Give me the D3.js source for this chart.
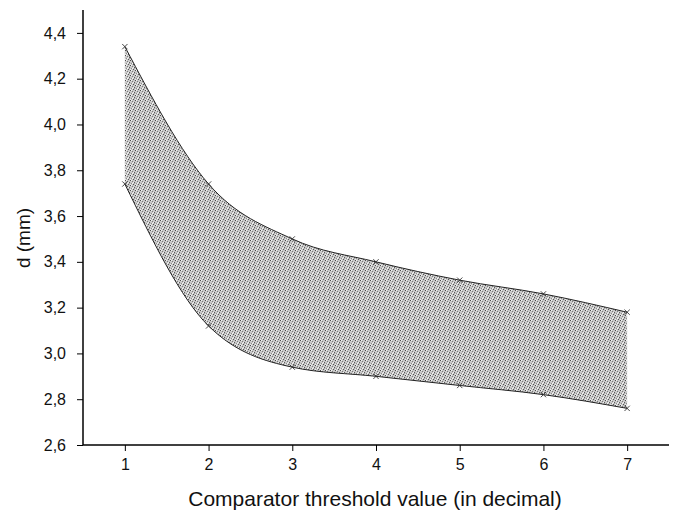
<!DOCTYPE html>
<html>
<head>
<meta charset="utf-8">
<script src="https://cdn.jsdelivr.net/npm/d3@7"></script>
<style>
  html, body { margin: 0; padding: 0; background: #fff; }
  svg { display: block; }
  text { font-family: "Liberation Sans", Arial, sans-serif; fill: #111; }
</style>
</head>
<body>
<svg id="chart" width="676" height="516"></svg>
<script>
// ---- data ----
const xValues = [1, 2, 3, 4, 5, 6, 7];
const upperValues = [4.34, 3.74, 3.50, 3.40, 3.32, 3.26, 3.18];
const lowerValues = [3.74, 3.12, 2.94, 2.90, 2.86, 2.82, 2.76];
const xTicks = [1, 2, 3, 4, 5, 6, 7];
const yTicks = [2.6, 2.8, 3.0, 3.2, 3.4, 3.6, 3.8, 4.0, 4.2, 4.4];
const xLabel = "Comparator threshold value (in decimal)";
const yLabel = "d (mm)";

const svg = d3.select("#chart");
const x = d3.scaleLinear().domain([0.5, 7.5]).range([83, 669]);
const y = d3.scaleLinear().domain([2.6, 4.5]).range([445, 10]);

const rows = xValues.map((v, i) => ({ x: v, hi: upperValues[i], lo: lowerValues[i] }));

// stipple-like pattern
const defs = svg.append("defs");
const pat = defs.append("pattern").attr("id", "stip")
  .attr("width", 5).attr("height", 5).attr("patternUnits", "userSpaceOnUse");
pat.append("rect").attr("width", 5).attr("height", 5).attr("fill", "#c8c8c8");
[[0,0,"#4a4a4a"],[2,1,"#7a7a7a"],[4,2,"#5a5a5a"],[1,3,"#8a8a8a"],[3,4,"#565656"],
 [1,0,"#f4f4f4"],[3,2,"#efefef"],[0,4,"#eaeaea"],[4,3,"#a6a6a6"],[2,3,"#f7f7f7"]]
  .forEach(([px, py, c]) => pat.append("rect").attr("x", px).attr("y", py).attr("width", 1).attr("height", 1).attr("fill", c));

const curve = d3.curveMonotoneX;
const area = d3.area().x(d => x(d.x)).y0(d => y(d.lo)).y1(d => y(d.hi)).curve(curve);
svg.append("path").datum(rows).attr("d", area).attr("fill", "url(#stip)");

const lineHi = d3.line().x(d => x(d.x)).y(d => y(d.hi)).curve(curve);
const lineLo = d3.line().x(d => x(d.x)).y(d => y(d.lo)).curve(curve);
svg.append("path").datum(rows).attr("d", lineHi).attr("fill", "none").attr("stroke", "#222").attr("stroke-width", 1);
svg.append("path").datum(rows).attr("d", lineLo).attr("fill", "none").attr("stroke", "#222").attr("stroke-width", 1);

// markers
const pts = rows.flatMap(d => [{ x: d.x, v: d.hi }, { x: d.x, v: d.lo }]);
svg.append("g").selectAll("path").data(pts).join("path")
  .attr("d", d3.symbol(d3.symbolX, 20)())
  .attr("transform", d => `translate(${x(d.x)},${y(d.v)})`)
  .attr("stroke", "#333").attr("stroke-width", 0.9).attr("fill", "none");

// axes
const fmt = d => d3.format(".1f")(d).replace(".", ",");
const xAxis = svg.append("g").attr("transform", "translate(0,445)");
xAxis.call(d3.axisBottom(x).tickValues(d3.range(0.5, 7.51, 0.5)).tickSize(3).tickFormat(""))
  .call(g => g.select(".domain").remove());
xAxis.call(d3.axisBottom(x).tickValues(xTicks).tickSize(6).tickFormat(d3.format("d")).tickPadding(8))
  .call(g => g.select(".domain").remove());
xAxis.append("line").attr("x1", 83).attr("x2", 669).attr("stroke", "#000").attr("stroke-width", 1.5);
xAxis.selectAll("text").attr("font-size", 16).attr("font-family", "Liberation Sans, Arial, sans-serif").attr("fill", "#111");

const yAxis = svg.append("g").attr("transform", "translate(83,0)");
yAxis.call(d3.axisLeft(y).tickValues(d3.range(2.6, 4.51, 0.1)).tickSize(3).tickFormat(""))
  .call(g => g.select(".domain").remove());
yAxis.call(d3.axisLeft(y).tickValues(yTicks).tickSize(6).tickFormat(fmt).tickPadding(11))
  .call(g => g.select(".domain").remove());
yAxis.append("line").attr("y1", 10).attr("y2", 445).attr("stroke", "#000").attr("stroke-width", 1.5);
yAxis.selectAll("text").attr("font-size", 16).attr("font-family", "Liberation Sans, Arial, sans-serif").attr("fill", "#111");

svg.append("text").attr("x", 375).attr("y", 506).attr("text-anchor", "middle")
  .attr("font-size", 21).text(xLabel);
svg.append("text").attr("transform", "translate(30,238) rotate(-90)").attr("text-anchor", "middle")
  .attr("font-size", 19).text(yLabel);
</script>
</body>
</html>
